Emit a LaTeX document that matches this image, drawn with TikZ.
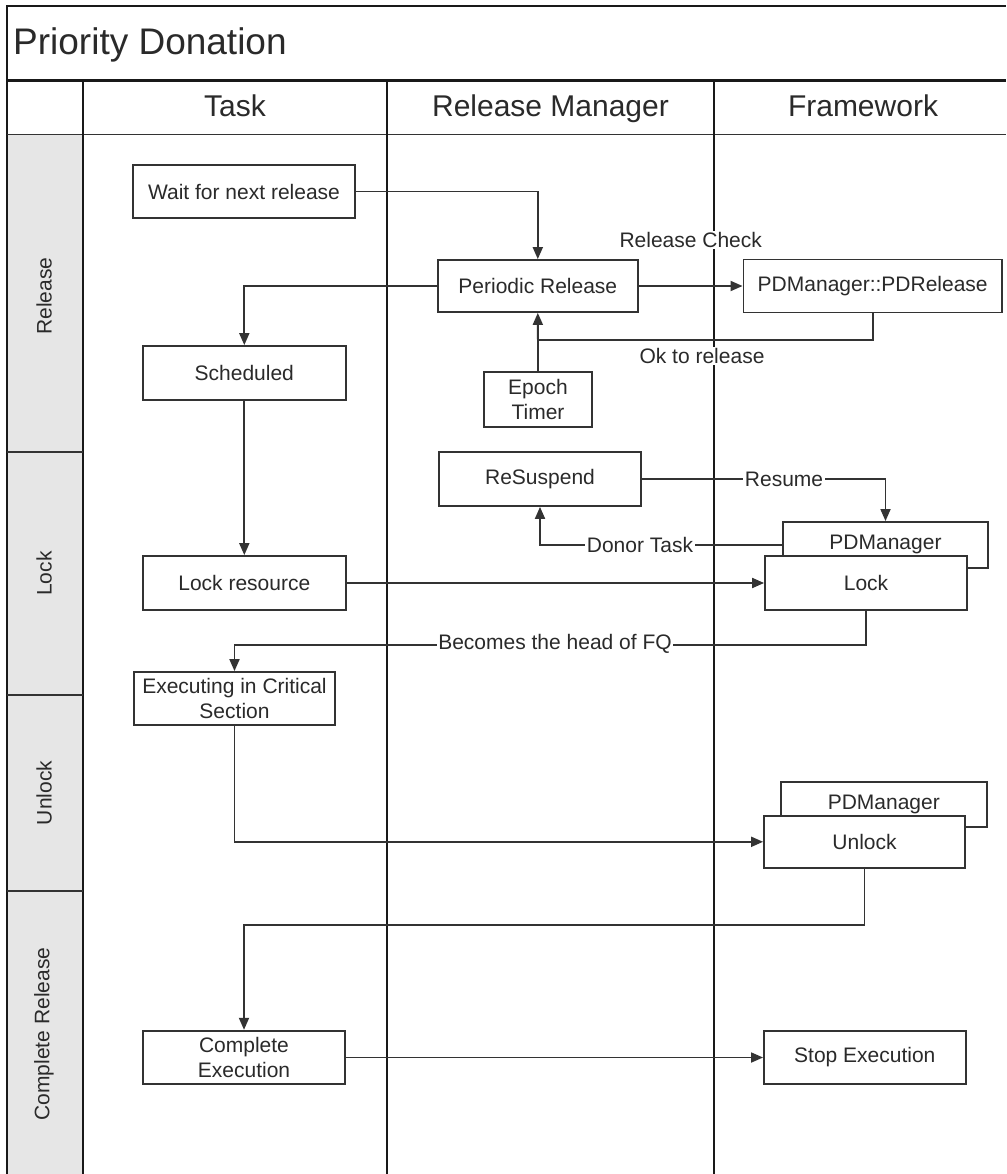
\documentclass[tikz,border=0pt]{standalone}
\usepackage{fontspec}
\setmainfont{Liberation Sans}
\usetikzlibrary{arrows.meta}
\definecolor{txt}{HTML}{2A2A2A}
\definecolor{lin}{HTML}{333333}
\definecolor{lanefill}{HTML}{E6E6E6}
\tikzset{
  frame/.style={draw=black!90, line width=2.2pt},
  thinframe/.style={draw=black!80, line width=1.8pt},
  box/.style={draw=lin, line width=1.8pt, fill=white, text=txt, inner sep=1pt,
    font=\fontsize{21}{25}\selectfont, align=center},
  conn/.style={draw=lin, line width=1.8pt, -{Triangle[length=12pt,width=10pt]}},
  plain/.style={draw=lin, line width=1.8pt},
  lbl/.style={fill=white, text=txt, inner sep=1.5pt, font=\fontsize{21}{25}\selectfont},
  hdr/.style={text=txt, font=\fontsize{30}{34}\selectfont, anchor=base, inner sep=0pt},
  lane/.style={text=txt, font=\fontsize{21}{25}\selectfont, rotate=90}
}
\begin{document}
\begin{tikzpicture}[x=1pt,y=-1pt]
\useasboundingbox (0,0) rectangle (1006,1174);
\fill[white] (0,0) rectangle (1006,1174);
% lane label column
\fill[lanefill] (7,134.5) rectangle (83,1174);
% frame lines
\draw[frame] (7,1174) -- (7,6) -- (1006,6);
\draw[frame, line width=3pt] (7,80.5) -- (1006,80.5);
\draw[thinframe] (7,134.5) -- (1006,134.5);
\draw[frame] (83,80.5) -- (83,1174);
\draw[frame] (387,80.5) -- (387,1174);
\draw[frame] (714,80.5) -- (714,1174);
\draw[thinframe] (7,452) -- (83,452);
\draw[thinframe] (7,695) -- (83,695);
\draw[thinframe] (7,891) -- (83,891);
% title and headers
\node[anchor=base west, text=txt, font=\fontsize{37}{40}\selectfont, inner sep=0pt] (title) at (13,55) {Priority Donation};
\node[hdr] (htask) at (235,116.5) {Task};
\node[hdr] (hrm) at (550.5,116.5) {Release Manager};
\node[hdr] (hfw) at (863,116.5) {Framework};
% lane labels
\node[lane] (lrel) at (44,296) {Release};
\node[lane] (llock) at (44,573.5) {Lock};
\node[lane] (lunlock) at (44,793) {Unlock};
\node[lane] (lcomp) at (44,1034) {Complete Release};
% boxes
\node[box, minimum width=222pt, minimum height=53pt] (wait) at (244,191.5) {Wait for next release};
\node[box, minimum width=200pt, minimum height=52pt] (periodic) at (537.8,286) {Periodic Release};
\node[box, minimum width=258.5pt, minimum height=53pt] (pdrelease) at (872.7,286) {PDManager::PDRelease};
\node[box, minimum width=203pt, minimum height=54pt] (scheduled) at (244.3,373) {Scheduled};
\node[box, minimum width=108.6pt, minimum height=54.7pt] (epoch) at (538,399.3) {Epoch\\Timer};
\node[box, minimum width=202pt, minimum height=54pt] (resuspend) at (540,479) {ReSuspend};
\node[box, minimum width=205pt, minimum height=45.7pt] (pdmgra) at (885.5,544.8) {PDManager};
\node[box, minimum width=202pt, minimum height=54pt] (lock) at (866,583) {Lock};
\node[box, minimum width=203pt, minimum height=54pt] (lockres) at (244.3,583) {Lock resource};
\node[box, minimum width=201pt, minimum height=53pt] (exec) at (234.5,698.5) {Executing in Critical\\Section};
\node[box, minimum width=205.7pt, minimum height=45pt] (pdmgrb) at (883.8,804.2) {PDManager};
\node[box, minimum width=201pt, minimum height=52.3pt] (unlock) at (864.5,841.8) {Unlock};
\node[box, minimum width=202pt, minimum height=53.6pt] (complete) at (244,1057.5) {Complete\\Execution};
\node[box, minimum width=201.7pt, minimum height=53.3pt] (stop) at (864.8,1057.5) {Stop Execution};
% connectors
\coordinate (okj) at (537.8,340);
\draw[conn] (wait.east) -| (periodic.north);
\draw[conn] (periodic.west) -| (scheduled.north);
\draw[conn] (periodic.east) -- (pdrelease.west);
\draw[plain] (pdrelease.south) |- (okj);
\draw[conn] (epoch.north) -- (periodic.south);
\draw[conn] (scheduled.south) -- (lockres.north);
\draw[conn] (resuspend.east) -| (pdmgra.north);
\draw[conn] (pdmgra.west) -| (resuspend.south);
\draw[conn] (lockres.east) -- (lock.west);
\draw[conn] (lock.south) -- ++(0,34) -| (exec.north);
\draw[conn] (exec.south) |- (unlock.west);
\draw[conn] (unlock.south) -- ++(0,56) -| (complete.north);
\draw[conn] (complete.east) -- (stop.west);
% connector labels
\node[lbl] (lrc) at (690.7,240) {Release Check};
\node[lbl] (lok) at (702,356) {Ok to release};
\node[lbl] (lres) at (784,479) {Resume};
\node[lbl] (ldon) at (640,545) {Donor Task};
\node[lbl] (lfq) at (555,644) {Becomes the head of FQ};
\end{tikzpicture}
\end{document}
